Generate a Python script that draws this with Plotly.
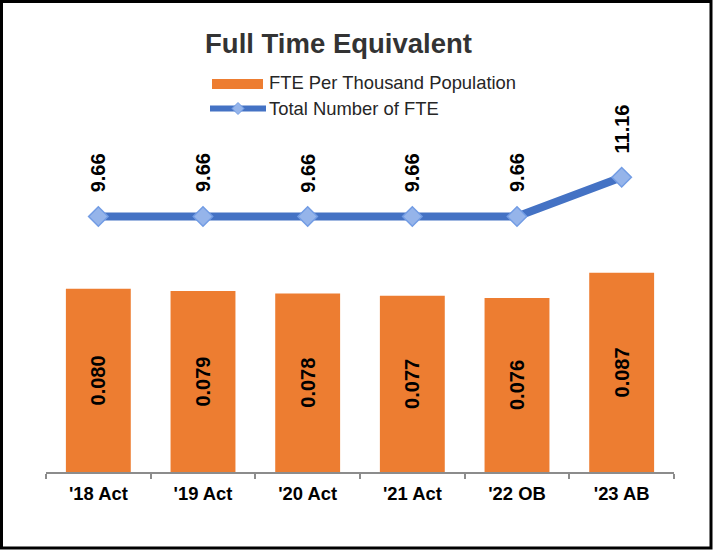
import plotly.graph_objects as go

# chart data
categories = ["'18 Act", "'19 Act", "'20 Act", "'21 Act", "'22 OB", "'23 AB"]
fte_per_thousand = [0.080, 0.079, 0.078, 0.077, 0.076, 0.087]
total_fte = [9.66, 9.66, 9.66, 9.66, 9.66, 11.16]

FONT = "Arial, Liberation Sans, sans-serif"
BAR_COLOR = "#ED7D31"
LINE_COLOR = "#4472C4"
MARKER_FILL = "#95B4EA"
MARKER_EDGE = "#729CE4"

# plot area in pixels (used to place legend/border in paper coords)
W, H = 713, 550
L, R, T, B = 46, 39, 140, 78
PW, PH = W - L - R, H - T - B


def px(x):
    return (x - L) / PW


def py(y):
    return (H - B - y) / PH


fig = go.Figure()

# bars: FTE per thousand population
fig.add_trace(
    go.Bar(
        x=categories,
        y=fte_per_thousand,
        marker=dict(color=BAR_COLOR, line=dict(width=0)),
        texttemplate="%{y:.3f}",
        textposition="inside",
        insidetextanchor="middle",
        textangle=-90,
        textfont=dict(family=FONT, size=20, color="black", weight="bold"),
        name="FTE Per Thousand Population",
        showlegend=False,
        yaxis="y",
    )
)

# line: total number of FTE
fig.add_trace(
    go.Scatter(
        x=categories,
        y=total_fte,
        mode="lines+markers",
        line=dict(color=LINE_COLOR, width=8),
        marker=dict(
            symbol="diamond", size=15, color=MARKER_FILL,
            line=dict(color=MARKER_EDGE, width=1.5),
        ),
        name="Total Number of FTE",
        showlegend=False,
        yaxis="y2",
    )
)

# rotated value labels above the line points
for cat, val in zip(categories, total_fte):
    fig.add_annotation(
        x=cat, y=val, xref="x", yref="y2",
        text=f"{val:.2f}", textangle=-90, showarrow=False,
        yanchor="bottom", yshift=22,
        font=dict(family=FONT, size=20, color="black", weight="bold"),
    )

# hand-drawn legend (wide swatches like the original)
shapes = [
    dict(type="rect", xref="paper", yref="paper",
         x0=px(212), x1=px(263), y0=py(89), y1=py(79),
         fillcolor=BAR_COLOR, line=dict(width=0)),
    dict(type="line", xref="paper", yref="paper",
         x0=px(210), x1=px(266), y0=py(108.5), y1=py(108.5),
         line=dict(color=LINE_COLOR, width=6)),
    dict(type="path", xref="paper", yref="paper",
         path=(f"M {px(232)},{py(108.5)} L {px(238)},{py(102.5)} "
               f"L {px(244)},{py(108.5)} L {px(238)},{py(114.5)} Z"),
         fillcolor=MARKER_FILL, line=dict(color=MARKER_EDGE, width=1)),
    # outer frame
    dict(type="rect", xref="paper", yref="paper",
         x0=px(1.5), x1=px(711), y0=py(548), y1=py(1.5),
         line=dict(color="black", width=3), layer="above"),
]
for label, ypos in [("FTE Per Thousand Population", 82),
                    ("Total Number of FTE", 108.5)]:
    fig.add_annotation(
        x=px(267), y=py(ypos), xref="paper", yref="paper",
        text=label, showarrow=False, xanchor="left", yanchor="middle",
        font=dict(family=FONT, size=18.4, color="#262626"),
    )

fig.update_layout(
    width=W,
    height=H,
    margin=dict(l=L, r=R, t=T, b=B),
    paper_bgcolor="white",
    plot_bgcolor="white",
    bargap=0.38,
    shapes=shapes,
    title=dict(
        text="Full Time Equivalent",
        x=338.5 / W, xref="container", xanchor="center",
        y=1 - 43 / H, yref="container", yanchor="middle",
        font=dict(family=FONT, size=27.5, color="#333333", weight="bold"),
    ),
    xaxis=dict(
        showline=True, linecolor="#8C8C8C", linewidth=1.5,
        ticks="outside", tickson="boundaries", ticklen=5,
        tickcolor="#8C8C8C", tickwidth=1.5,
        showgrid=False, zeroline=False, ticklabelstandoff=4,
        tickfont=dict(family=FONT, size=18.4, color="black", weight="bold"),
    ),
    yaxis=dict(visible=False, range=[0, 0.145]),
    yaxis2=dict(visible=False, overlaying="y", range=[-0.118, 12.588]),
)

# drop the default page margin so the figure sits at the window origin
fig.write_html(
    "out.html",
    config={"displayModeBar": False},
    post_script="document.body.style.margin='0';",
)
